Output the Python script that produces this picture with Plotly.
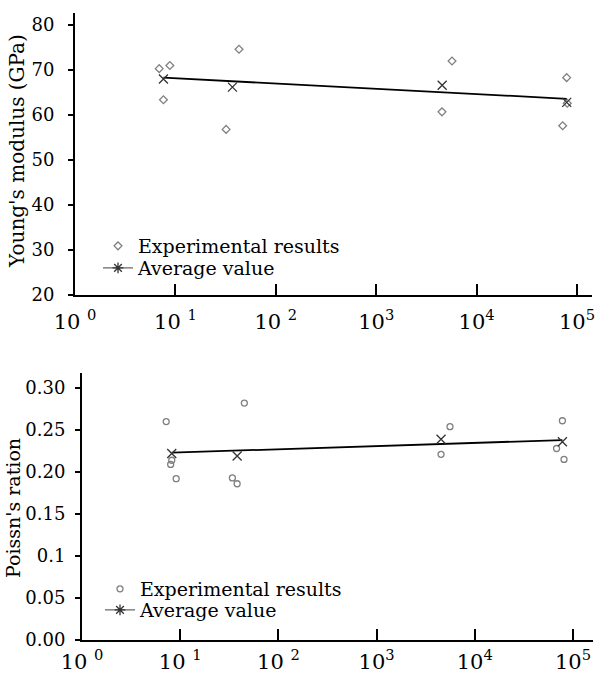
import numpy as np
import plotly.graph_objects as go

# ---------------- data ----------------
# Young's modulus (top)
ym_exp_x = [6.9, 8.8, 7.6, 32, 43, 5690, 4520, 78900, 72000, 80000]
ym_exp_y = [70.3, 71.0, 63.4, 56.8, 74.6, 72.0, 60.7, 68.3, 57.6, 62.6]
ym_avg_x = [7.6, 37, 4540, 79000]
ym_avg_y = [68.0, 66.2, 66.6, 62.8]
ym_trend_x = [7.6, 79000]
ym_trend_y = [68.3, 63.6]

# Poisson's ratio (bottom)
pr_exp_x = [7.2, 8.2, 8.0, 9.1, 45, 34, 38, 5590, 4530, 78000, 81000, 68000]
pr_exp_y = [0.260, 0.214, 0.209, 0.192, 0.282, 0.193, 0.186, 0.254, 0.221, 0.261, 0.215, 0.228]
pr_avg_x = [8.2, 38, 4530, 78000]
pr_avg_y = [0.222, 0.219, 0.239, 0.236]
pr_trend_x = [8.2, 78000]
pr_trend_y = [0.223, 0.238]

xtick_vals = [1, 10, 100, 1000, 10000, 100000]
xtick_text = ["10 <sup>0</sup>", "10 <sup>1</sup>", "10 <sup>2</sup>",
              "10<sup>3</sup>", "10<sup>4</sup>", "10<sup>5</sup>"]
ym_ticks = [20, 30, 40, 50, 60, 70, 80]
pr_ticks = [0.0, 0.05, 0.1, 0.15, 0.2, 0.25, 0.3]
pr_ticktext = ["0.00", "0.05", "0.1", "0.15", "0.20", "0.25", "0.30"]

W, H = 596, 675
FONT = "DejaVu Serif"
GRAY = "#808080"
DARK = "#333333"

fig = go.Figure()

exp_top_marker = dict(symbol="diamond-open", size=6, color=GRAY, line=dict(width=1.3))
exp_bot_marker = dict(symbol="circle-open", size=6, color=GRAY, line=dict(width=1.3))
avg_marker = dict(symbol="x-thin-open", size=9, color=DARK, line=dict(width=1.3, color=DARK))
leg_avg_marker = dict(symbol="asterisk-open", size=9, color=DARK, line=dict(width=1.3, color=DARK))

# ---- top ----
fig.add_trace(go.Scatter(x=ym_exp_x, y=ym_exp_y, mode="markers", xaxis="x", yaxis="y",
                         marker=exp_top_marker, name="Experimental results", legend="legend"))
fig.add_trace(go.Scatter(x=ym_trend_x, y=ym_trend_y, mode="lines", xaxis="x", yaxis="y",
                         line=dict(color="black", width=1.8), showlegend=False))
fig.add_trace(go.Scatter(x=ym_avg_x, y=ym_avg_y, mode="markers", xaxis="x", yaxis="y",
                         marker=avg_marker, showlegend=False))
fig.add_trace(go.Scatter(x=[None], y=[None], mode="lines+markers", xaxis="x", yaxis="y",
                         line=dict(color=GRAY, width=1.5), marker=leg_avg_marker,
                         name="Average value", legend="legend2"))

# ---- bottom ----
fig.add_trace(go.Scatter(x=pr_exp_x, y=pr_exp_y, mode="markers", xaxis="x2", yaxis="y2",
                         marker=exp_bot_marker, name="Experimental results", legend="legend3"))
fig.add_trace(go.Scatter(x=pr_trend_x, y=pr_trend_y, mode="lines", xaxis="x2", yaxis="y2",
                         line=dict(color="black", width=1.8), showlegend=False))
fig.add_trace(go.Scatter(x=pr_avg_x, y=pr_avg_y, mode="markers", xaxis="x2", yaxis="y2",
                         marker=avg_marker, showlegend=False))
fig.add_trace(go.Scatter(x=[None], y=[None], mode="lines+markers", xaxis="x2", yaxis="y2",
                         line=dict(color=GRAY, width=1.5), marker=leg_avg_marker,
                         name="Average value", legend="legend4"))

axfont = dict(family=FONT, size=18, color="black")
xfont = dict(family=FONT, size=21, color="black")

common_x = dict(type="log", showline=True, linecolor="black", linewidth=2, ticks="inside",
                ticklen=11, tickwidth=2, tickcolor="black", showgrid=False, zeroline=False,
                tickvals=xtick_vals, ticktext=xtick_text, tickfont=xfont, automargin=False)
common_y = dict(showline=True, linecolor="black", linewidth=2, ticks="outside", ticklen=5,
                tickwidth=2, tickcolor="black", showgrid=False, zeroline=False,
                tickfont=axfont, automargin=False)


def leg(xpx, ypx):
    return dict(x=xpx / W, y=1 - ypx / H, xanchor="left", yanchor="middle",
                bgcolor="rgba(0,0,0,0)", font=dict(family=FONT, size=19),
                itemwidth=30, borderwidth=0)


fig.update_layout(
    width=W, height=H, margin=dict(l=0, r=0, t=0, b=0),
    paper_bgcolor="white", plot_bgcolor="white",
    font=dict(family=FONT, size=18, color="black"),
    xaxis=dict(common_x, domain=[75 / W, 592 / W], range=[0, (592 - 75) / 100.4], anchor="y",
               ticklabelstandoff=7),
    yaxis=dict(common_y, domain=[1 - 295 / H, 1 - 13 / H], range=[20, 20 + (295 - 13) / 4.5],
               tickvals=ym_ticks, anchor="x", ticklabelstandoff=10),
    xaxis2=dict(common_x, domain=[82 / W, 593 / W], range=[0, (593 - 82) / 98.2], anchor="y2",
                ticklabelstandoff=2),
    yaxis2=dict(common_y, domain=[1 - 640 / H, 1 - 373 / H], range=[0, (640 - 373) / 840],
                tickvals=pr_ticks, ticktext=pr_ticktext, anchor="x2", ticklabelstandoff=6),
    legend=leg(98, 246),
    legend2=leg(98, 268),
    legend3=leg(100, 589),
    legend4=leg(100, 610),
    showlegend=True,
    annotations=[
        dict(text="Young's modulus (GPa)", x=17 / W, y=1 - 151 / H, xref="paper", yref="paper",
             textangle=-90, showarrow=False, xanchor="center", yanchor="middle",
             font=dict(family=FONT, size=20, color="black")),
        dict(text="Poissn's ration", x=13 / W, y=1 - 508 / H, xref="paper", yref="paper",
             textangle=-90, showarrow=False, xanchor="center", yanchor="middle",
             font=dict(family=FONT, size=19, color="black")),
    ],
)

fig.write_html("out.html")
